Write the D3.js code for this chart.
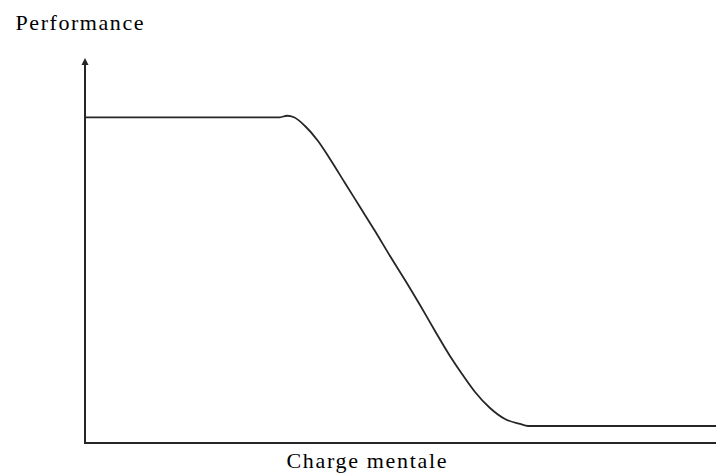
<!DOCTYPE html>
<html>
<head>
<meta charset="utf-8">
<script src="https://cdn.jsdelivr.net/npm/d3@7"></script>
<style>
html,body{margin:0;padding:0;background:#fff;}
svg{display:block;}
</style>
</head>
<body>
<svg id="chart" width="719" height="475"></svg>
<script>
// Data (abstract units 0-100 on both axes)
const chargeMentale = [0, 30.90, 32.01, 33.12, 34.87, 36.93, 38.83, 41.20, 43.58, 45.96, 48.34, 50.71, 53.09, 55.47, 57.84, 59.75, 61.81, 64.18, 66.56, 68.94, 70.21, 100];
const performance  = [84.6, 84.6, 85.0, 84.6, 82.34, 78.44, 73.77, 67.53, 61.30, 55.06, 48.57, 42.34, 35.84, 29.09, 22.60, 17.92, 13.25, 9.09, 6.23, 4.94, 4.42, 4.42];
const yAxisTitle = "Performance";
const xAxisTitle = "Charge mentale";

const svg = d3.select("#chart");
const x = d3.scaleLinear().domain([0, 100]).range([85, 716]);
const y = d3.scaleLinear().domain([0, 100]).range([443, 58]);

const ink = "#262626";
const font = "'Liberation Serif','Times New Roman',serif";

// axes
svg.append("line")
  .attr("x1", x(0)).attr("x2", x(0))
  .attr("y1", y(0)).attr("y2", y(100) + 6)
  .attr("stroke", ink).attr("stroke-width", 2);
svg.append("line")
  .attr("x1", x(0) - 1).attr("x2", x(100))
  .attr("y1", y(0)).attr("y2", y(0))
  .attr("stroke", ink).attr("stroke-width", 2);
// arrow head
svg.append("path")
  .attr("d", `M${x(0)},${y(100)} L${x(0) - 3.5},${y(100) + 7} L${x(0) + 3.5},${y(100) + 7} Z`)
  .attr("fill", ink);

// curve
const pts = chargeMentale.map((d, i) => [d, performance[i]]);
const line = d3.line()
  .x(d => x(d[0])).y(d => y(d[1]))
  .curve(d3.curveMonotoneX);
svg.append("path")
  .datum(pts)
  .attr("d", line)
  .attr("fill", "none")
  .attr("stroke", ink)
  .attr("stroke-width", 1.8);

// titles
svg.append("text")
  .attr("x", 15.5).attr("y", 29.7)
  .attr("font-family", font).attr("font-size", 22)
  .attr("textLength", 128).attr("lengthAdjust", "spacing")
  .attr("fill", "#000")
  .text(yAxisTitle);
svg.append("text")
  .attr("x", 286.5).attr("y", 468.3)
  .attr("font-family", font).attr("font-size", 22)
  .attr("textLength", 160).attr("lengthAdjust", "spacing")
  .attr("fill", "#000")
  .text(xAxisTitle);
</script>
</body>
</html>
